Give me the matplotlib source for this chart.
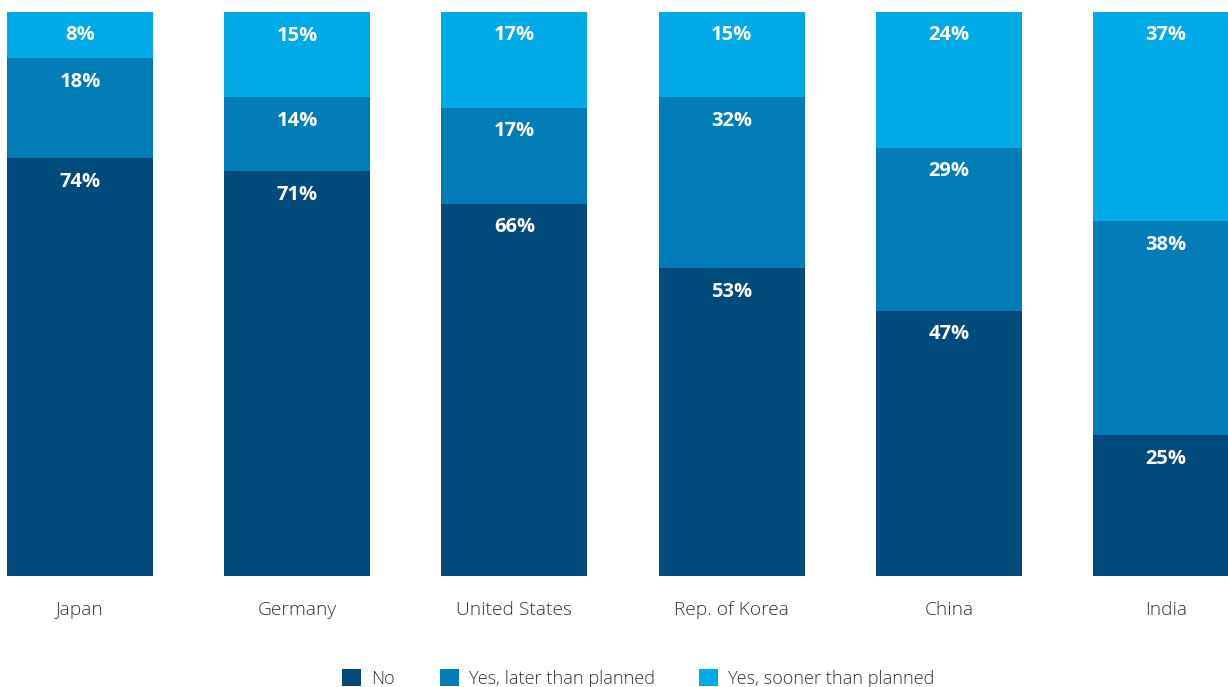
import matplotlib.pyplot as plt
from matplotlib.patches import Patch

plt.rcParams['font.family'] = ['Open Sans', 'DejaVu Sans']

countries = ['Japan', 'Germany', 'United States', 'Rep. of Korea', 'China', 'India']
# segment heights as drawn
no = [74.1, 71.8, 66.0, 54.6, 47.0, 25.0]
later = [17.7, 13.1, 17.0, 30.3, 28.9, 37.9]
sooner = [8.2, 15.1, 17.0, 15.1, 24.1, 37.1]
# percentages printed on the bars
no_lbl = [74, 71, 66, 53, 47, 25]
later_lbl = [18, 14, 17, 32, 29, 38]
sooner_lbl = [8, 15, 17, 15, 24, 37]
series_names = ['No', 'Yes, later than planned', 'Yes, sooner than planned']
colors = ['#004b7c', '#007cb6', '#00aae7']

fig = plt.figure(figsize=(12.28, 6.87), dpi=100)
ax = fig.add_axes([7 / 1228, 1 - 576 / 687, 1221 / 1228, 564 / 687])

x = list(range(len(countries)))
width = 0.672
bottom = [0] * len(countries)
for vals, lbls, col in zip([no, later, sooner], [no_lbl, later_lbl, sooner_lbl], colors):
    ax.bar(x, vals, width, bottom=bottom, color=col, linewidth=0)
    for xi, v, b, l in zip(x, vals, bottom, lbls):
        ax.annotate(f'{l}%', (xi, b + v), xytext=(0, -23.5), textcoords='offset pixels',
                    ha='center', va='center', color='white', fontsize=14.5, fontweight='bold')
    bottom = [b + v for b, v in zip(bottom, vals)]

ax.set_xlim(-0.336, 5.285)
ax.set_ylim(0, 100)
ax.set_yticks([])
ax.set_xticks(x)
ax.set_xticklabels(countries, fontsize=13.8, color='#333333', fontweight='light')
ax.tick_params(axis='x', length=0, pad=18)
for s in ax.spines.values():
    s.set_visible(False)

handles = [Patch(facecolor=c, edgecolor='none') for c in colors]
fig.legend(handles, series_names, loc='center', bbox_to_anchor=(0.52, 1 - 678.5 / 687),
           ncol=3, frameon=False, handlelength=1.05, handleheight=1.05,
           handletextpad=0.55, columnspacing=2.45, labelcolor='#333333',
           prop={'size': 13.1, 'weight': 'light'})

fig.savefig('out.png', dpi=100)
